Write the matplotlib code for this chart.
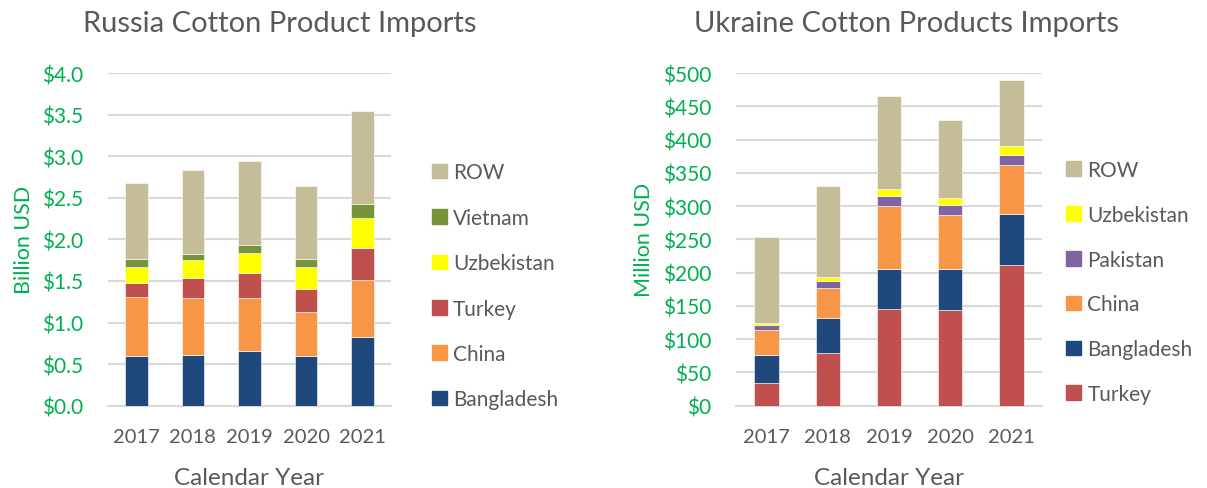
import matplotlib
matplotlib.use('Agg')
import matplotlib.pyplot as plt
from matplotlib.patches import Patch
import numpy as np

plt.rcParams['font.family'] = ['Lato', 'DejaVu Sans']

years = ['2017', '2018', '2019', '2020', '2021']

# Russia, billion USD (stack order bottom -> top)
ru_countries = ['Bangladesh', 'China', 'Turkey', 'Uzbekistan', 'Vietnam', 'ROW']
ru_bangladesh = [0.60, 0.61, 0.66, 0.60, 0.83]
ru_china = [0.71, 0.69, 0.64, 0.53, 0.68]
ru_turkey = [0.16, 0.24, 0.30, 0.27, 0.38]
ru_uzbekistan = [0.20, 0.21, 0.24, 0.27, 0.37]
ru_vietnam = [0.09, 0.07, 0.09, 0.09, 0.17]
ru_row = [0.92, 1.01, 1.01, 0.88, 1.11]

# Ukraine, million USD (stack order bottom -> top)
ua_countries = ['Turkey', 'Bangladesh', 'China', 'Pakistan', 'Uzbekistan', 'ROW']
ua_turkey = [34, 79, 146, 144, 212]
ua_bangladesh = [42, 53, 59, 61, 76]
ua_china = [38, 45, 95, 82, 73]
ua_pakistan = [8, 11, 15, 15, 16]
ua_uzbekistan = [3, 5, 11, 10, 14]
ua_row = [129, 137, 140, 117, 99]

colors = {'Bangladesh': '#1F497D', 'China': '#F79646', 'Turkey': '#C0504D',
          'Uzbekistan': '#FFFF00', 'Vietnam': '#77933C', 'ROW': '#C4BD97',
          'Pakistan': '#8064A2'}

green = '#00B050'
gray = '#595959'
grid = '#D9D9D9'


def stacked(ax, names, series, title, title_x, ylabel, ymax, step, fmt,
            leg_x, leg_y, spacing):
    x = np.arange(len(years))
    bottom = np.zeros(len(years))
    for name, vals in zip(names, series):
        ax.bar(x, vals, 0.4, bottom=bottom, color=colors[name],
               edgecolor='white', linewidth=0.4, zorder=3)
        bottom += np.array(vals)
    ax.set_xlim(-0.5, 4.5)
    ax.set_ylim(0, ymax)
    ax.set_yticks(np.arange(0, ymax + step / 2, step))
    ax.yaxis.set_major_formatter(matplotlib.ticker.FuncFormatter(fmt))
    ax.set_xticks(x)
    ax.set_xticklabels(years)
    ax.grid(axis='y', color=grid, linewidth=1.5, zorder=0)
    for s in ['top', 'right', 'left']:
        ax.spines[s].set_visible(False)
    ax.spines['bottom'].set_color(grid)
    ax.spines['bottom'].set_linewidth(1.5)
    ax.tick_params(length=0)
    ax.tick_params(axis='y', labelcolor=green, labelsize=15, pad=18)
    ax.tick_params(axis='x', labelcolor=gray, labelsize=14.5, pad=16)
    # chart title sits off-centre over the whole chart area (plot + legend)
    ax.text(title_x, 1.126, title, transform=ax.transAxes, ha='center',
            va='baseline', color=gray, fontsize=21)
    ax.set_ylabel(ylabel, color=green, fontsize=15.5, labelpad=6)
    ax.set_xlabel('Calendar Year', color=gray, fontsize=17.5, labelpad=16)
    handles = [Patch(color=colors[n], label=n) for n in names][::-1]
    ax.legend(handles=handles, loc='center left', bbox_to_anchor=(leg_x, leg_y),
              frameon=False, fontsize=15, handlelength=0.7, handleheight=0.7,
              handletextpad=0.3, labelspacing=spacing, labelcolor=gray,
              borderaxespad=0, borderpad=0)


fig = plt.figure(figsize=(12.07, 4.89), dpi=100)
ax1 = fig.add_axes([108 / 1207, 1 - 406.7 / 489, 283 / 1207, 332.7 / 489])
ax2 = fig.add_axes([736 / 1207, 1 - 406.7 / 489, 306 / 1207, 332.7 / 489])

stacked(ax1, ru_countries,
        [ru_bangladesh, ru_china, ru_turkey, ru_uzbekistan, ru_vietnam, ru_row],
        'Russia Cotton Product Imports', 0.608, 'Billion USD', 4.0, 0.5,
        lambda v, p: f'${v:.1f}', 1.145, 0.36, 1.22)
stacked(ax2, ua_countries,
        [ua_turkey, ua_bangladesh, ua_china, ua_pakistan, ua_uzbekistan, ua_row],
        'Ukraine Cotton Products Imports', 0.556, 'Million USD', 500, 50,
        lambda v, p: f'${v:.0f}', 1.08, 0.372, 1.19)

fig.savefig('out.png', dpi=100)
